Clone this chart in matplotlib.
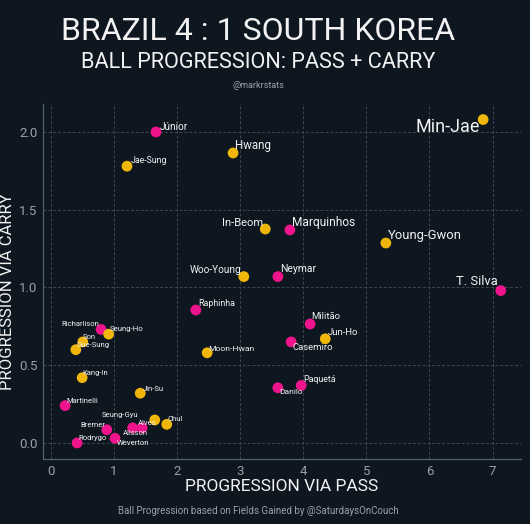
import numpy as np
import matplotlib
matplotlib.use("Agg")
import matplotlib.pyplot as plt

plt.rcParams["font.family"] = ["Roboto", "DejaVu Sans"]

BG = "#0e1720"
PINK = "#f0148c"
GOLD = "#f0b70a"
GRID = "#3c4753"
TEXT = "#f2f2f2"
MUTED = "#9aa0a6"

# Brazil
BRA_NAMES = ["Júnior", "Marquinhos", "Neymar", "Raphinha", "Militão", "Casemiro",
             "Paquetá", "Danilo", "T. Silva", "Richarlison", "Martinelli", "Bremer",
             "Rodrygo", "Weverton", "Alisson", "Alves"]
BRA_PASS = [1.67, 3.79, 3.60, 2.30, 4.11, 3.81, 3.97, 3.60, 7.13, 0.80, 0.23, 0.89,
            0.42, 1.02, 1.30, 1.45]
BRA_CARRY = [2.00, 1.37, 1.07, 0.855, 0.765, 0.65, 0.37, 0.355, 0.98, 0.73, 0.24, 0.085,
             0.00, 0.03, 0.097, 0.097]

# South Korea
KOR_NAMES = ["Min-Jae", "Hwang", "Jae-Sung", "In-Beom", "Young-Gwon", "Woo-Young",
             "Jun-Ho", "Moon-Hwan", "Seung-Ho", "Son", "Gue-Sung", "Kang-In", "Jin-Su",
             "Seung-Gyu", "Chul"]
KOR_PASS = [6.85, 2.89, 1.21, 3.40, 5.31, 3.06, 4.35, 2.48, 0.92, 0.51, 0.40, 0.50,
            1.42, 1.65, 1.84]
KOR_CARRY = [2.08, 1.865, 1.78, 1.376, 1.286, 1.07, 0.67, 0.58, 0.70, 0.65, 0.60, 0.42,
             0.32, 0.148, 0.12]

X_TICKS = [0, 1, 2, 3, 4, 5, 6, 7]
Y_TICKS = [0.0, 0.5, 1.0, 1.5, 2.0]

# label placement: (dx px, dy px, ha, fontsize)
LABEL_STYLE = {
    "Júnior": (4, 5, "left", 7.2), "Marquinhos": (2, 7, "left", 8.6),
    "Neymar": (2, 8, "left", 7.5), "Raphinha": (2, 7, "left", 6.4),
    "Militão": (1, 8, "left", 6.8), "Casemiro": (1, -6, "left", 6.8),
    "Paquetá": (2, 6, "left", 6.3), "Danilo": (1, -4, "left", 6.0),
    "T. Silva": (-3, 9, "right", 9.4), "Richarlison": (-2, 5, "right", 5.5),
    "Martinelli": (1, 5, "left", 5.5), "Bremer": (-1, 5, "right", 5.5),
    "Rodrygo": (1, 5, "left", 5.5), "Weverton": (2, -5, "left", 5.5),
    "Alisson": (-10, -5, "left", 5.5), "Alves": (-4, 5, "left", 5.5),
    "Min-Jae": (-3, -7, "right", 13), "Hwang": (2, 7, "left", 8.3),
    "Jae-Sung": (4, 6, "left", 6.3), "In-Beom": (-2, 6, "right", 8.0),
    "Young-Gwon": (2, 8, "left", 9.4), "Woo-Young": (-2, 7, "right", 7.2),
    "Jun-Ho": (2, 6, "left", 6.8), "Moon-Hwan": (1, 4, "left", 6.1),
    "Seung-Ho": (1, 5, "left", 5.7), "Son": (0, 5, "left", 5.5),
    "Gue-Sung": (1, 5, "left", 5.5), "Kang-In": (0, 5, "left", 5.5),
    "Jin-Su": (3, 4, "left", 5.5), "Seung-Gyu": (-16, 5, "right", 5.5),
    "Chul": (1, 5, "left", 5.5),
}

fig = plt.figure(figsize=(5.30, 5.24), dpi=100, facecolor=BG)
ax = fig.add_axes([43 / 530, 1 - 459 / 524, (521 - 43) / 530, (459 - 104) / 524])
ax.set_facecolor(BG)

ax.scatter(BRA_PASS, BRA_CARRY, s=60, color=PINK, edgecolors="none", zorder=3)
ax.scatter(KOR_PASS, KOR_CARRY, s=60, color=GOLD, edgecolors="none", zorder=3)

for names, xs, ys in [(BRA_NAMES, BRA_PASS, BRA_CARRY), (KOR_NAMES, KOR_PASS, KOR_CARRY)]:
    for n, x, y in zip(names, xs, ys):
        dx, dy, ha, fs = LABEL_STYLE[n]
        ax.annotate(n, (x, y), xytext=(dx, dy), textcoords="offset pixels",
                    ha=ha, va="center", fontsize=fs, color=TEXT, zorder=4)

ax.set_xlim(-0.12, 7.45)
ax.set_ylim(-0.103, 2.18)
ax.set_xticks(X_TICKS)
ax.set_yticks(Y_TICKS)
ax.set_yticklabels([f"{v:.1f}" for v in Y_TICKS])
ax.grid(True, color=GRID, linestyle=(0, (3, 2)), linewidth=0.7)
ax.set_axisbelow(True)
ax.tick_params(colors=MUTED, labelsize=9.5, length=0, pad=4)
for side in ["top", "right"]:
    ax.spines[side].set_visible(False)
for side in ["left", "bottom"]:
    ax.spines[side].set_color("#55606b")
    ax.spines[side].set_linewidth(0.9)

ax.set_xlabel("PROGRESSION VIA PASS", color=TEXT, fontsize=12.5, labelpad=1)
ax.set_ylabel("PROGRESSION VIA CARRY", color=TEXT, fontsize=12)
ax.yaxis.set_label_coords((15 - 43) / 478, (459 - 292) / 355)

fig.text(0.487, 1 - 31 / 524, "BRAZIL 4 : 1 SOUTH KOREA", ha="center", va="center",
         color=TEXT, fontsize=23)
fig.text(0.487, 1 - 63 / 524, "BALL PROGRESSION: PASS + CARRY", ha="center", va="center",
         color=TEXT, fontsize=15.6)
fig.text(0.487, 1 - 85 / 524, "@markrstats", ha="center", va="center",
         color=MUTED, fontsize=6.5)
fig.text(0.487, 1 - 511 / 524, "Ball Progression based on Fields Gained by @SaturdaysOnCouch",
         ha="center", va="center", color=MUTED, fontsize=7)

fig.savefig("out.png", dpi=100, facecolor=BG)
